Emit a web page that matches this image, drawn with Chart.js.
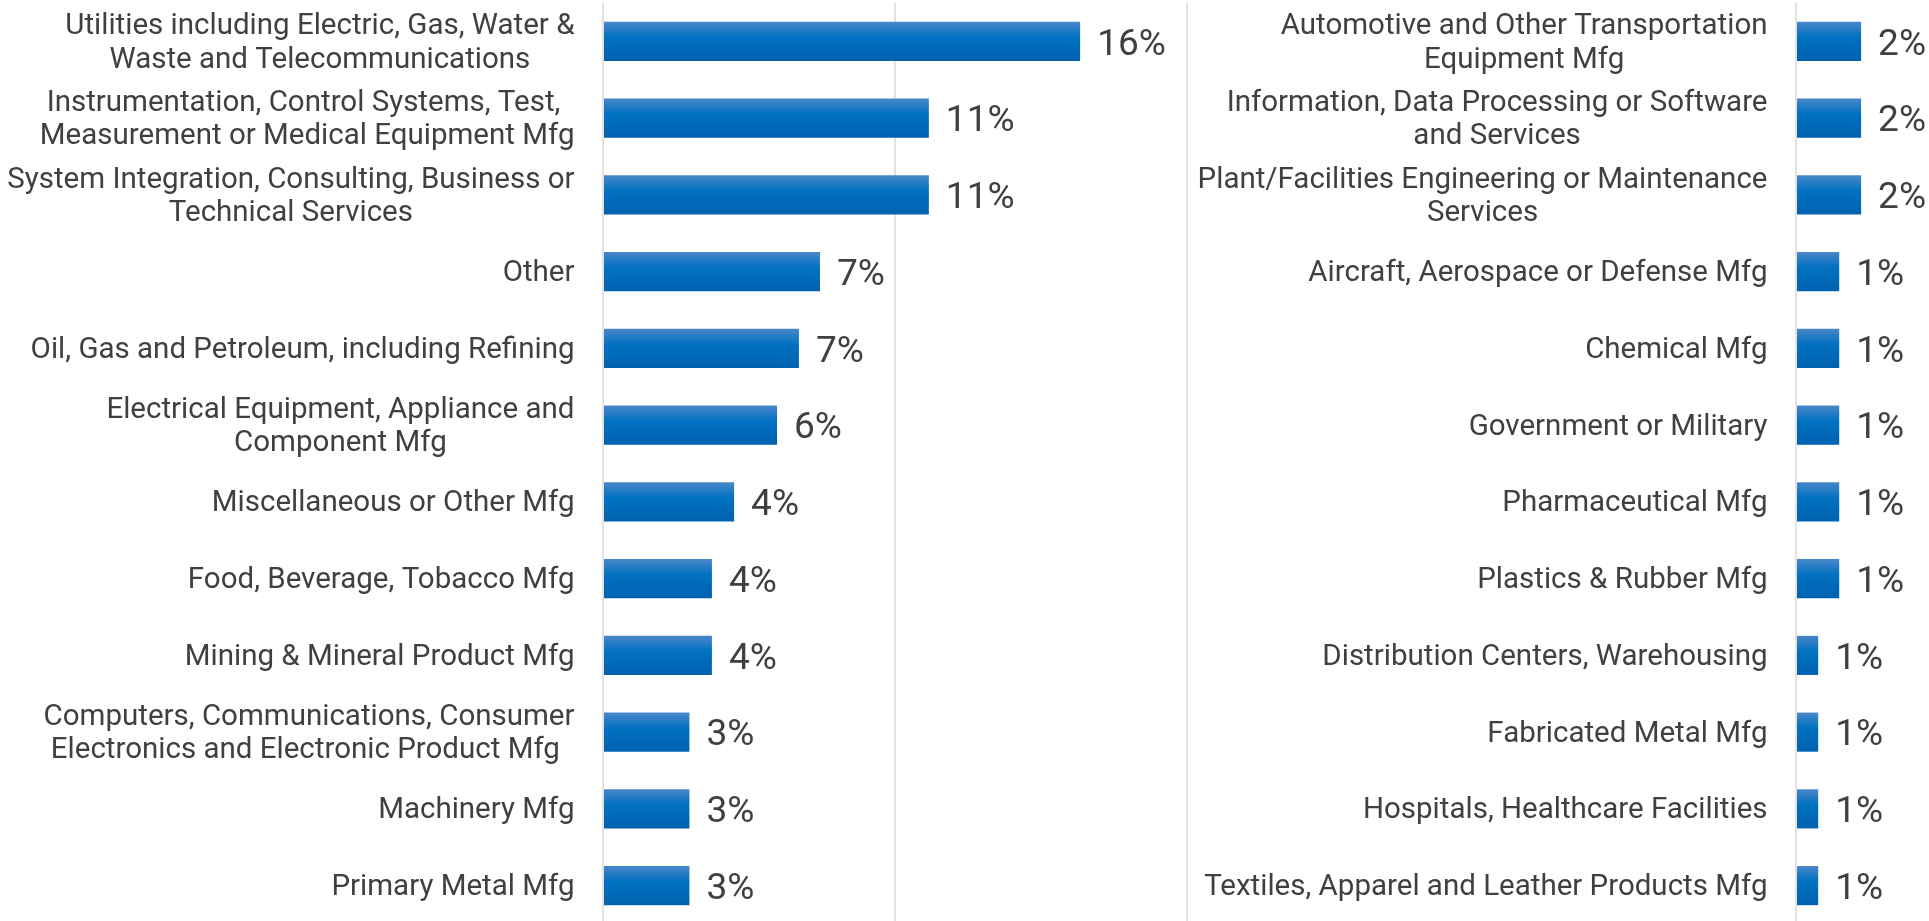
<!DOCTYPE html>
<html>
<head>
<meta charset="utf-8">
<title>Industry</title>
<script src="https://cdn.jsdelivr.net/npm/chart.js@4.4.1/dist/chart.umd.min.js"></script>
<style>
  html, body { margin: 0; padding: 0; background: #fff; overflow: hidden; width: 1929px; height: 921px; }
  canvas { position: absolute; top: 0; }
  #chartLeft { left: 0; }
  #chartRight { left: 1190px; }
</style>
</head>
<body>
<canvas id="chartLeft" width="1190" height="924"></canvas>
<canvas id="chartRight" width="1193" height="924"></canvas>
<script>
// industry shares (%), split over two columns
const leftLabels = [
  ['Utilities including Electric, Gas, Water &', 'Waste and Telecommunications'],
  ['Instrumentation, Control Systems, Test, ', 'Measurement or Medical Equipment Mfg'],
  ['System Integration, Consulting, Business or', 'Technical Services'],
  'Other',
  'Oil, Gas and Petroleum, including Refining',
  ['Electrical Equipment, Appliance and', 'Component Mfg'],
  'Miscellaneous or Other Mfg',
  'Food, Beverage, Tobacco Mfg',
  'Mining & Mineral Product Mfg',
  ['Computers, Communications, Consumer', 'Electronics and Electronic Product Mfg '],
  'Machinery Mfg',
  'Primary Metal Mfg'
];
const leftValues = [16.34, 11.16, 11.16, 7.43, 6.71, 5.96, 4.49, 3.73, 3.73, 2.96, 2.96, 2.96];

const rightLabels = [
  ['Automotive and Other Transportation', 'Equipment Mfg'],
  ['Information, Data Processing or Software', 'and Services'],
  ['Plant/Facilities Engineering or Maintenance', 'Services'],
  'Aircraft, Aerospace or Defense Mfg',
  'Chemical Mfg',
  'Government or Military',
  'Pharmaceutical Mfg',
  'Plastics & Rubber Mfg',
  'Distribution Centers, Warehousing',
  'Fabricated Metal Mfg',
  'Hospitals, Healthcare Facilities',
  'Textiles, Apparel and Leather Products Mfg'
];
const rightValues = [2.23, 2.23, 2.23, 1.48, 1.48, 1.48, 1.48, 1.48, 0.76, 0.76, 0.76, 0.76];

const textColor = '#404040';
const labelFont = '29.5px Roboto';
const valueFont = '37px Roboto';

// vertical shading of each bar: light top edge, darker bottom
function barGradient(context) {
  const chart = context.chart;
  const yScale = chart.scales.y;
  if (!yScale || context.dataIndex === undefined) return '#0070c0';
  const center = yScale.getPixelForValue(context.dataIndex);
  if (!isFinite(center)) return '#0070c0';
  const half = 19.5;
  const g = chart.ctx.createLinearGradient(0, center - half, 0, center + half);
  g.addColorStop(0, '#4a87c9');
  g.addColorStop(0.4, '#0071c1');
  g.addColorStop(1, '#0062b0');
  return g;
}

// category names (lines centred inside their block) and the % after each bar
const barText = {
  id: 'barText',
  afterDatasetsDraw(chart) {
    const ctx = chart.ctx;
    const yScale = chart.scales.y;
    const right = yScale.right - 28.5;
    const lineHeight = 33.5;
    ctx.save();
    ctx.fillStyle = textColor;
    ctx.font = labelFont;
    ctx.textAlign = 'center';
    ctx.textBaseline = 'alphabetic';
    chart.data.labels.forEach((label, i) => {
      const lines = Array.isArray(label) ? label : [label];
      const widest = Math.max(...lines.map(l => ctx.measureText(l).width));
      const cx = right - widest / 2;
      const yc = yScale.getPixelForValue(i);
      lines.forEach((line, k) => {
        ctx.fillText(line, cx, yc + 9.5 + (k - (lines.length - 1) / 2) * lineHeight);
      });
    });

    ctx.font = valueFont;
    ctx.textAlign = 'left';
    const values = chart.data.datasets[0].data;
    chart.getDatasetMeta(0).data.forEach((bar, i) => {
      ctx.fillText(Math.round(values[i]) + '%', bar.x + 17, bar.y + 13.3);
    });
    ctx.restore();
  }
};

function makeChart(id, labels, values, axisWidth) {
  const ctx = document.getElementById(id).getContext('2d');
  const chart = new Chart(ctx, {
    type: 'bar',
    data: {
      labels: labels,
      datasets: [{
        data: values,
        backgroundColor: barGradient,
        borderWidth: 0,
        barPercentage: 0.51,
        categoryPercentage: 1
      }]
    },
    options: {
      indexAxis: 'y',
      responsive: false,
      animation: false,
      devicePixelRatio: 1,
      layout: { padding: { top: 3, right: 3, bottom: 0, left: 0 } },
      plugins: {
        legend: { display: false },
        tooltip: { enabled: false }
      },
      scales: {
        x: {
          min: 0,
          max: 20,
          ticks: { display: false, stepSize: 10 },
          grid: { color: '#e2e2e2', lineWidth: 2, drawTicks: false },
          border: { display: false }
        },
        y: {
          ticks: { display: false },
          grid: { display: false, drawTicks: false },
          border: { display: false },
          afterFit(scale) { scale.width = axisWidth; }
        }
      }
    },
    plugins: [barText]
  });
  // second pass so the gradients see the finished scale
  chart.update();
  return chart;
}

document.addEventListener('DOMContentLoaded', function () {
  makeChart('chartLeft', leftLabels, leftValues, 603);
  makeChart('chartRight', rightLabels, rightValues, 606);
});
</script>
</body>
</html>
